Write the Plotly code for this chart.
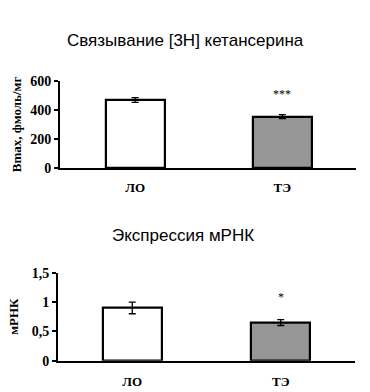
import plotly.graph_objects as go

categories = ["ЛО", "ТЭ"]
bmax_values = [469, 354]
bmax_errors = [16, 14]
mrna_values = [0.90, 0.65]
mrna_errors = [0.10, 0.05]
bar_colors = ["#FFFFFF", "#969696"]
top_title = "Связывание [3H] кетансерина"
bottom_title = "Экспрессия мРНК"
top_ytitle = "Bmax, фмоль/мг"
bottom_ytitle = "мРНК"
top_ticks = [0, 200, 400, 600]
top_ticklabels = ["0", "200", "400", "600"]
bottom_ticks = [0, 0.5, 1, 1.5]
bottom_ticklabels = ["0", "0,5", "1", "1,5"]
sig_top = ("ТЭ", 510, "***")
sig_bottom = ("ТЭ", 1.09, "*")

W, H = 370, 392
SERIF = "Times New Roman, Liberation Serif, serif"
SANS = "Arial, Liberation Sans, sans-serif"

fig = go.Figure()
fig.add_trace(go.Bar(
    x=categories, y=bmax_values, width=0.4,
    marker=dict(color=bar_colors, line=dict(color="black", width=2.2)),
    error_y=dict(type="data", array=bmax_errors, color="black", thickness=1.3, width=3.5),
    xaxis="x", yaxis="y", showlegend=False, hoverinfo="skip"))
fig.add_trace(go.Bar(
    x=categories, y=mrna_values, width=0.4,
    marker=dict(color=bar_colors, line=dict(color="black", width=2.2)),
    error_y=dict(type="data", array=mrna_errors, color="black", thickness=1.3, width=3.5),
    xaxis="x2", yaxis="y2", showlegend=False, hoverinfo="skip"))

tickfont = dict(family=SERIF, size=14, color="black", weight="bold")
xtickfont = dict(family=SERIF, size=13, color="black", weight="bold")
titlefont = dict(family=SERIF, size=13, color="black", weight="bold")


def px_x(p):
    return p / W


def px_y(p):
    return 1 - p / H


common_x = dict(showline=True, linecolor="black", linewidth=2, showgrid=False,
                ticks="outside", tickcolor="rgba(0,0,0,0)", tickfont=xtickfont,
                zeroline=False, automargin=False)
common_y = dict(showline=True, linecolor="black", linewidth=2, showgrid=False,
                ticks="outside", ticklen=4, tickwidth=2, tickcolor="black",
                tickfont=tickfont, zeroline=False, automargin=False)

fig.update_layout(
    width=W, height=H, margin=dict(l=0, r=0, t=0, b=0),
    paper_bgcolor="white", plot_bgcolor="white", bargap=0,
    xaxis=dict(common_x, domain=[px_x(60), px_x(356)], range=[-0.51, 1.5], anchor="y", ticklen=6),
    yaxis=dict(common_y, domain=[px_y(168), px_y(81)], range=[0, 600], anchor="x",
               tickvals=top_ticks, ticktext=top_ticklabels,
               title=dict(text=top_ytitle, font=titlefont, standoff=6)),
    xaxis2=dict(common_x, domain=[px_x(58), px_x(355)], range=[-0.5, 1.5], anchor="y2", ticklen=8),
    yaxis2=dict(common_y, domain=[px_y(360.7), px_y(272.7)], range=[0, 1.5], anchor="x2",
                tickvals=bottom_ticks, ticktext=bottom_ticklabels,
                title=dict(text=bottom_ytitle, font=titlefont, standoff=10)),
)

annos = [
    dict(text=top_title, x=185 / W, y=px_y(40), xref="paper", yref="paper",
         showarrow=False, xanchor="center", yanchor="middle",
         font=dict(family=SANS, size=17, color="black")),
    dict(text=bottom_title, x=183 / W, y=px_y(235), xref="paper", yref="paper",
         showarrow=False, xanchor="center", yanchor="middle",
         font=dict(family=SANS, size=17, color="black")),
    dict(text=sig_top[2], x=sig_top[0], y=sig_top[1], xref="x", yref="y",
         showarrow=False, xanchor="center", yanchor="middle",
         font=dict(family=SERIF, size=12, color="#000000")),
    dict(text=sig_bottom[2], x=sig_bottom[0], y=sig_bottom[1], xref="x2", yref="y2",
         showarrow=False, xanchor="center", yanchor="middle",
         font=dict(family=SERIF, size=12, color="#000000")),
]
fig.update_layout(annotations=annos)

fig.write_html("out.html", config={"displayModeBar": False},
               post_script="document.body.style.margin='0';document.body.style.overflow='hidden';")
